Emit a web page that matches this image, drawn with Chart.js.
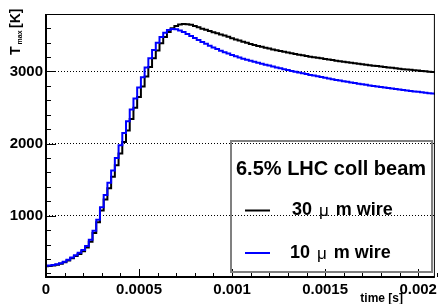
<!DOCTYPE html>
<html>
<head>
<meta charset="utf-8">
<script src="https://cdn.jsdelivr.net/npm/chart.js@4.4.1/dist/chart.umd.min.js"></script>
<style>
  html, body { margin: 0; padding: 0; background: #fff; }
  canvas { display: block; }
</style>
</head>
<body>
<canvas id="tmaxChart" width="441" height="304"></canvas>
<script>
// time bins in microseconds
const timeUs = [
    0,   20,   40,   60,   80,  100,  120,  140,  160,  180,
  200,  220,  240,  260,  280,  300,  320,  340,  360,  380,
  400,  420,  440,  460,  480,  500,  520,  540,  560,  580,
  600,  620,  640,  660,  680,  700,  720,  740,  760,  780,
  800,  820,  840,  860,  880,  900,  920,  940,  960,  980,
 1000, 1020, 1040, 1060, 1080, 1100, 1120, 1140, 1160, 1180,
 1200, 1220, 1240, 1260, 1280, 1300, 1320, 1340, 1360, 1380,
 1400, 1420, 1440, 1460, 1480, 1500, 1520, 1540, 1560, 1580,
 1600, 1620, 1640, 1660, 1680, 1700, 1720, 1740, 1760, 1780,
 1800, 1820, 1840, 1860, 1880, 1900, 1920, 1940, 1960, 1980,
 2000, 2020, 2040, 2060, 2080, 2100
];
// T max [K], 30 um wire
const tmax30um = [
  300,  303,  310,  320,  335,  355,  380,  410,  440,  470,
  508,  560,  640,  760,  910, 1070, 1225, 1380, 1540, 1700,
 1860, 2020, 2180, 2340, 2495, 2645, 2790, 2930, 3060, 3180,
 3290, 3390, 3475, 3545, 3597, 3630, 3648, 3655, 3654, 3645,
 3630, 3610, 3592, 3575, 3558, 3542, 3528, 3512, 3496, 3478,
 3458, 3442, 3426, 3410, 3395, 3380, 3366, 3353, 3340, 3328,
 3316, 3304, 3293, 3282, 3271, 3261, 3251, 3241, 3231, 3222,
 3213, 3204, 3196, 3188, 3180, 3172, 3164, 3156, 3148, 3141,
 3134, 3127, 3120, 3113, 3106, 3099, 3092, 3085, 3079, 3073,
 3067, 3061, 3055, 3049, 3043, 3037, 3031, 3026, 3021, 3016,
 3011, 3006, 3001, 2996, 2991, 2986
];
// T max [K], 10 um wire
const tmax10um = [
  305,  308,  315,  326,  342,  363,  390,  420,  452,  485,
  525,  580,  665,  790,  945, 1115, 1285, 1455, 1625, 1800,
 1975, 2145, 2310, 2470, 2625, 2775, 2920, 3055, 3180, 3295,
 3395, 3475, 3535, 3572, 3586, 3582, 3566, 3545, 3518, 3490,
 3462, 3434, 3407, 3381, 3356, 3332, 3309, 3287, 3266, 3246,
 3227, 3209, 3192, 3176, 3161, 3146, 3132, 3118, 3105, 3092,
 3080, 3067, 3054, 3042, 3030, 3018, 3006, 2995, 2984, 2973,
 2962, 2951, 2941, 2931, 2921, 2911, 2901, 2891, 2882, 2873,
 2864, 2855, 2846, 2837, 2829, 2821, 2813, 2805, 2797, 2789,
 2782, 2775, 2768, 2761, 2754, 2747, 2740, 2734, 2728, 2722,
 2716, 2710, 2704, 2698, 2692, 2686
];

const xTickValues = [0, 0.0005, 0.001, 0.0015, 0.002];
const xTickLabels = ["0", "0.0005", "0.001", "0.0015", "0.002"];
const yTickValues = [1000, 2000, 3000];
const seriesLabels = ["30 \u03bc m wire", "10 \u03bc m wire"];
const legendHeader = "6.5% LHC coll beam";

const FONT = '"Liberation Sans", Arial, Helvetica, sans-serif';

function toPoints(values) {
    return timeUs.map(function (t, i) {
        return { x: t * 1e-6, y: values[i] };
    });
}

// ROOT-like frame, inward ticks, axis titles and legend box
const rootFrame = {
    id: "rootFrame",
    afterDraw: function (chart) {
        const ctx = chart.ctx;
        const area = chart.chartArea;
        const xs = chart.scales.x;
        const ys = chart.scales.y;
        ctx.save();

        // frame
        ctx.strokeStyle = "#000";
        ctx.lineWidth = 1;
        ctx.strokeRect(area.left + 0.5, area.top + 0.5, area.right - area.left - 1, area.bottom - area.top - 1);
        ctx.lineWidth = 2;
        ctx.beginPath();
        ctx.moveTo(area.left, area.top);
        ctx.lineTo(area.left, area.bottom);
        ctx.lineTo(area.right, area.bottom);
        ctx.stroke();

        // x ticks
        ctx.lineWidth = 1;
        ctx.beginPath();
        for (let k = 0; k <= 21; k++) {
            const v = k * 0.0001;
            const px = Math.round(xs.getPixelForValue(v)) + 0.5;
            const len = k % 5 === 0 ? 8 : 4;
            ctx.moveTo(px, area.bottom);
            ctx.lineTo(px, area.bottom - len);
        }
        // y ticks
        for (let v = 200; v <= 3700; v += 200) {
            const py = Math.round(ys.getPixelForValue(v)) + 0.5;
            const len = v % 1000 === 0 ? 10 : 5;
            ctx.moveTo(area.left, py);
            ctx.lineTo(area.left + len, py);
        }
        ctx.stroke();

        // axis titles
        ctx.fillStyle = "#000";
        ctx.textBaseline = "alphabetic";
        ctx.textAlign = "right";
        ctx.font = "bold 12px " + FONT;
        ctx.fillText("time [s]", 403, 302);

        ctx.save();
        ctx.translate(20, 55);
        ctx.rotate(-Math.PI / 2);
        ctx.textAlign = "left";
        ctx.font = "bold 14px " + FONT;
        ctx.fillText("T", 0, 0);
        const tw = ctx.measureText("T").width;
        ctx.font = "bold 7px " + FONT;
        ctx.fillText("max", tw + 2, 2);
        ctx.font = "bold 14px " + FONT;
        ctx.fillText("[K]", 27, 0);
        ctx.restore();

        // legend
        ctx.strokeStyle = "#808080";
        ctx.lineWidth = 2;
        ctx.strokeRect(231, 141, 201, 131);

        ctx.textAlign = "left";
        ctx.textBaseline = "middle";
        ctx.fillStyle = "#000";
        ctx.font = "bold 20px " + FONT;
        ctx.fillText(legendHeader, 236, 169);

        const rowY = [210.5, 253];
        const textX = [292, 290];
        chart.data.datasets.forEach(function (ds, i) {
            ctx.strokeStyle = ds.borderColor;
            ctx.lineWidth = 2;
            ctx.beginPath();
            ctx.moveTo(245, rowY[i]);
            ctx.lineTo(270, rowY[i]);
            ctx.stroke();

            const parts = ds.label.split("\u03bc");
            let x = textX[i];
            ctx.font = "bold 18px " + FONT;
            ctx.fillText(parts[0], x, rowY[i]);
            x += ctx.measureText(parts[0]).width + 2;
            ctx.font = "17px " + FONT;
            ctx.fillText("\u03bc", x, rowY[i] + 1);
            x += ctx.measureText("\u03bc").width + 2;
            ctx.font = "bold 18px " + FONT;
            ctx.fillText(parts[1], x, rowY[i]);
        });

        ctx.restore();
    },
};

new Chart(document.getElementById("tmaxChart").getContext("2d"), {
    type: "line",
    data: {
        datasets: [
            {
                label: seriesLabels[0],
                data: toPoints(tmax30um),
                borderColor: "#000000",
                borderWidth: 2,
                stepped: "middle",
                pointRadius: 0,
                fill: false,
                order: 1,
            },
            {
                label: seriesLabels[1],
                data: toPoints(tmax10um),
                borderColor: "#0000ff",
                borderWidth: 2,
                stepped: "middle",
                pointRadius: 0,
                fill: false,
                order: 0,
            },
        ],
    },
    options: {
        responsive: false,
        animation: false,
        layout: { padding: { top: 14, right: 2, left: 0, bottom: 0 } },
        plugins: {
            legend: { display: false },
            tooltip: { enabled: false },
        },
        scales: {
            x: {
                type: "linear",
                min: 0,
                max: 0.00209,
                afterBuildTicks: function (scale) {
                    scale.ticks = xTickValues.map(function (v) { return { value: v }; });
                },
                afterFit: function (scale) { scale.height = 27; },
                grid: { display: false, drawTicks: false },
                border: { display: false },
                ticks: {
                    color: "#000",
                    padding: 4,
                    maxRotation: 0,
                    autoSkip: false,
                    font: { family: FONT, size: 15, weight: "bold" },
                    callback: function (value, index) { return xTickLabels[index]; },
                },
            },
            y: {
                type: "linear",
                min: 150,
                max: 3795,
                afterBuildTicks: function (scale) {
                    scale.ticks = yTickValues.map(function (v) { return { value: v }; });
                },
                afterFit: function (scale) { scale.width = 46; },
                grid: { color: "#000", lineWidth: 1, drawTicks: false },
                border: { display: false, dash: [1, 2] },
                ticks: {
                    color: "#000",
                    padding: 3,
                    font: { family: FONT, size: 15, weight: "bold" },
                    callback: function (value) { return String(value); },
                },
            },
        },
    },
    plugins: [rootFrame],
});
</script>
</body>
</html>
